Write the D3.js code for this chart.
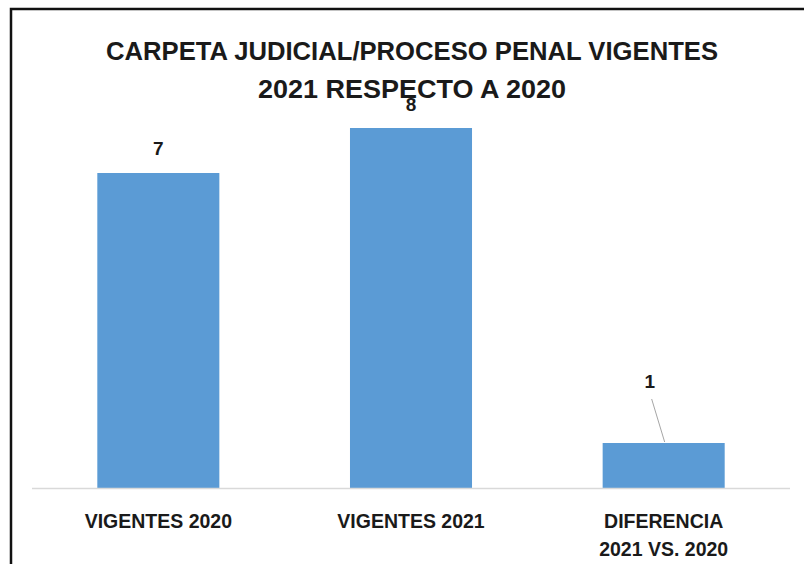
<!DOCTYPE html>
<html lang="es">
<head>
  <meta charset="UTF-8">
  <title>Carpeta judicial / proceso penal vigentes</title>
  <style>
    body { margin: 0; background: #fff; }
    svg { display: block; font-family: "Liberation Sans", Arial, sans-serif; }
    .bar { fill: #5B9BD5; }
    .lbl { font-weight: bold; fill: #1a1a1a; }
  </style>
</head>
<body>
  <svg width="804" height="564"></svg>

  <script src="https://d3js.org/d3.v7.min.js"></script>
  <script>
    // data
    const categories = ["VIGENTES 2020", "VIGENTES 2021", "DIFERENCIA\n2021 VS. 2020"];
    const values = [7, 8, 1];
    const titleLines = ["CARPETA JUDICIAL/PROCESO PENAL VIGENTES", "2021 RESPECTO A 2020"];

    const svg = d3.select("svg");

    // chart frame (cut off on right/bottom like the screenshot)
    svg.append("rect")
       .attr("x", 11).attr("y", 9)
       .attr("width", 820).attr("height", 600)
       .attr("fill", "none")
       .attr("stroke", "#111")
       .attr("stroke-width", 2.5);

    const x = d3.scaleBand()
                .domain(categories)
                .range([32, 790])
                .paddingInner(0.517)
                .paddingOuter(0.2585);

    const y = d3.scaleLinear()
                .domain([0, 8])
                .range([488, 128]);

    // title
    svg.append("g").selectAll("text")
       .data(titleLines)
       .join("text")
       .attr("class", "lbl")
       .attr("x", 412)
       .attr("y", (d, i) => 60 + i * 38)
       .attr("text-anchor", "middle")
       .attr("font-size", 25)
       .attr("textLength", (d, i) => i === 0 ? 612 : 308)
       .attr("lengthAdjust", "spacingAndGlyphs")
       .text(d => d);

    // bars
    svg.append("g").selectAll("rect")
       .data(values)
       .join("rect")
       .attr("class", "bar")
       .attr("x", (d, i) => x(categories[i]))
       .attr("y", d => y(d))
       .attr("width", x.bandwidth())
       .attr("height", d => y(0) - y(d));

    // baseline
    svg.append("line")
       .attr("x1", 32).attr("x2", 790)
       .attr("y1", y(0) + 0.5).attr("y2", y(0) + 0.5)
       .attr("stroke", "#d9d9d9")
       .attr("stroke-width", 1.5);

    // category labels (x axis, no ticks)
    const xAxis = svg.append("g")
       .attr("transform", `translate(0,${y(0)})`)
       .call(d3.axisBottom(x).tickSize(0).tickFormat(""));
    xAxis.select(".domain").remove();

    xAxis.selectAll(".tick").each(function (d) {
      const t = d3.select(this).append("text")
                  .attr("class", "lbl")
                  .attr("text-anchor", "middle")
                  .attr("font-size", 19.5);
      d.split("\n").forEach((line, k) => {
        t.append("tspan")
         .attr("x", 0)
         .attr("y", 40 + k * 28)
         .text(line);
      });
    });

    // value labels
    const labelOffset = [[0, -18], [0, -17], [-14, -55]];
    svg.append("g").selectAll("text")
       .data(values)
       .join("text")
       .attr("class", "lbl")
       .attr("text-anchor", "middle")
       .attr("font-size", 19)
       .attr("x", (d, i) => x(categories[i]) + x.bandwidth() / 2 + labelOffset[i][0])
       .attr("y", (d, i) => y(d) + labelOffset[i][1])
       .text(d => d);

    // leader line for the small bar label
    const i3 = 2;
    svg.append("line")
       .attr("x1", x(categories[i3]) + x.bandwidth() / 2 - 12)
       .attr("y1", y(values[i3]) - 44)
       .attr("x2", x(categories[i3]) + x.bandwidth() / 2 + 1)
       .attr("y2", y(values[i3]) - 1)
       .attr("stroke", "#a6a6a6")
       .attr("stroke-width", 1);
  </script>
</body>
</html>
